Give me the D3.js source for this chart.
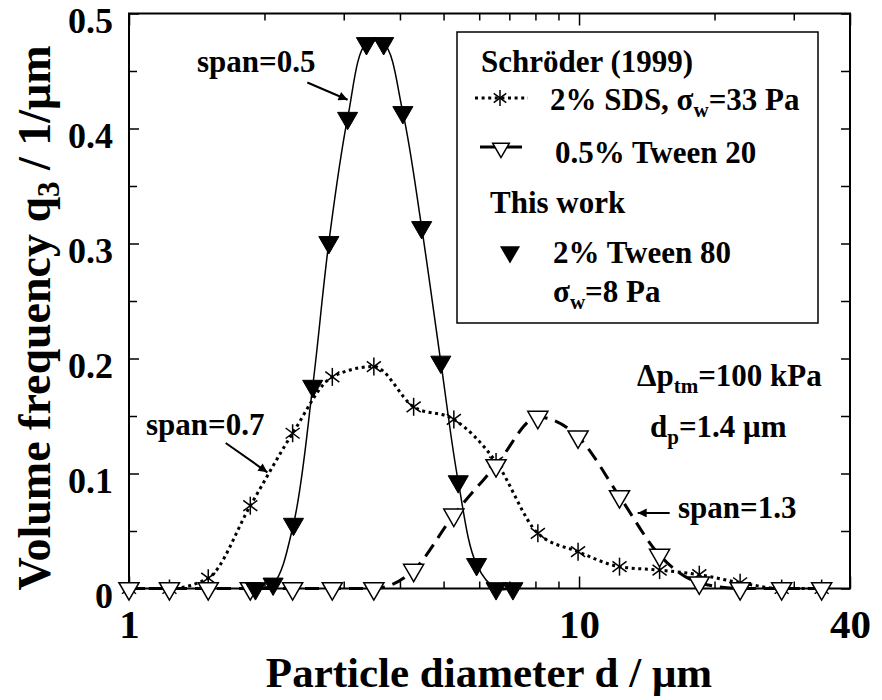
<!DOCTYPE html>
<html><head><meta charset="utf-8">
<script src="https://cdn.jsdelivr.net/npm/d3@7"></script>
<style>
body{margin:0;background:#fff}
text{font-family:"Liberation Serif","Times New Roman",serif;font-weight:bold;fill:#000}
</style>
</head><body>
<svg id="chart" width="882" height="700"></svg>
<script>
// ---------- data ----------
// Schröder (1999), 2% SDS, sigma_w = 33 Pa
const sdsD = [1.0, 1.23, 1.5, 1.86, 2.31, 2.83, 3.5, 4.29, 5.27, 6.54, 8.1, 9.95, 12.3, 15.1, 18.5, 22.8, 28.2, 34.6];
const sdsQ = [0, 0, 0.009, 0.072, 0.135, 0.184, 0.193, 0.158, 0.147, 0.11, 0.048, 0.032, 0.019, 0.016, 0.012, 0.005, 0, 0];
// Schröder (1999), 0.5% Tween 20
const tw20D = [1.0, 1.23, 1.5, 1.86, 2.31, 2.83, 3.5, 4.29, 5.27, 6.54, 8.1, 9.95, 12.3, 15.1, 18.5, 22.8, 28.2, 34.6];
const tw20Q = [0, 0, 0, 0, 0, 0, 0, 0.016, 0.064, 0.107, 0.149, 0.132, 0.080, 0.029, 0.005, 0, 0, 0];
// This work, 2% Tween 80, sigma_w = 8 Pa
const tw80D = [1.91, 2.09, 2.32, 2.56, 2.78, 3.06, 3.37, 3.68, 4.06, 4.47, 4.93, 5.39, 5.92, 6.54, 7.13];
const tw80Q = [0, 0.004, 0.056, 0.176, 0.301, 0.409, 0.474, 0.474, 0.414, 0.314, 0.197, 0.093, 0.021, 0, 0];

const xTicksMajor = [1, 10, 40];
const xTickLabels = ["1", "10", "40"];
const xTicksMinor = [2, 3, 4, 5, 6, 7, 8, 9, 20, 30];
const yTicksMajor = [0, 0.1, 0.2, 0.3, 0.4, 0.5];
const yTickLabels = ["0", "0.1", "0.2", "0.3", "0.4", "0.5"];
const yTicksMinor = [0.05, 0.15, 0.25, 0.35, 0.45];

// annotation arrows: [tail d, tail q, head d, head q]
const arrowSpan05 = [2.49, 0.440, 3.06, 0.425];
const arrowSpan07 = [1.64, 0.1265, 2.03, 0.101];
const arrowSpan13 = [15.9, 0.0657, 13.5, 0.0657];

// ---------- layout ----------
const L = 129, R = 850, T = 13.5, B = 588.5;
const svg = d3.select("#chart");
const x = d3.scaleLog().domain([1, 40]).range([L, R]);
const y = d3.scaleLinear().domain([0, 0.5]).range([B, T]);

// ---------- axes ----------
function styleAxis(g){ g.select(".domain").remove(); g.selectAll("line").attr("stroke","#000").attr("stroke-width",1.5); }
const gx = svg.append("g").attr("transform",`translate(0,${B})`)
  .call(d3.axisBottom(x).tickValues(xTicksMajor).tickSize(-12).tickFormat((d,i)=>xTickLabels[i]));
styleAxis(gx);
gx.selectAll("text").attr("y",49).attr("dy",0).style("font-size","41px");
svg.append("g").attr("transform",`translate(0,${B})`)
  .call(d3.axisBottom(x).tickValues(xTicksMinor).tickSize(-7).tickFormat("")).call(styleAxis);
svg.append("g").attr("transform",`translate(0,${T})`)
  .call(d3.axisTop(x).tickValues(xTicksMajor).tickSize(-12).tickFormat("")).call(styleAxis);
svg.append("g").attr("transform",`translate(0,${T})`)
  .call(d3.axisTop(x).tickValues(xTicksMinor).tickSize(-7).tickFormat("")).call(styleAxis);

const gy = svg.append("g").attr("transform",`translate(${L},0)`)
  .call(d3.axisLeft(y).tickValues(yTicksMajor).tickSize(-10).tickPadding(16).tickFormat((d,i)=>yTickLabels[i]));
styleAxis(gy);
gy.selectAll("text").attr("dy","0.54em").style("font-size","36px");
svg.append("g").attr("transform",`translate(${L},0)`)
  .call(d3.axisLeft(y).tickValues(yTicksMinor).tickSize(-8).tickFormat("")).call(styleAxis);
svg.append("g").attr("transform",`translate(${R},0)`)
  .call(d3.axisRight(y).tickValues(yTicksMajor.concat(yTicksMinor)).tickSize(-9).tickFormat("")).call(styleAxis);

svg.append("rect").attr("x",L).attr("y",T).attr("width",R-L).attr("height",B-T)
  .attr("fill","none").attr("stroke","#000").attr("stroke-width",2);

// ---------- axis titles ----------
svg.append("text").attr("x",489).attr("y",687).attr("text-anchor","middle").style("font-size","43px")
  .text("Particle diameter d / μm");
const yt = svg.append("text").attr("transform","translate(50,318) rotate(-90)").attr("text-anchor","middle").style("font-size","46px");
yt.append("tspan").text("Volume frequency q");
yt.append("tspan").attr("dy",9).style("font-size","31px").text("3");
yt.append("tspan").attr("dy",-9).text(" / 1/μm");

// ---------- series ----------
const line = d3.line().x(d=>x(d[0])).y(d=>y(d[1]));
const sdsPts = sdsD.map((d,i)=>[d,sdsQ[i]]);
const tw20Pts = tw20D.map((d,i)=>[d,tw20Q[i]]);
const tw80Pts = tw80D.map((d,i)=>[d,tw80Q[i]]);

svg.append("path").datum(sdsPts).attr("d",line.curve(d3.curveMonotoneX))
  .attr("fill","none").attr("stroke","#000").attr("stroke-width",3).attr("stroke-dasharray","3,3.6");
svg.append("path").datum(tw20Pts).attr("d",line.curve(d3.curveMonotoneX))
  .attr("fill","none").attr("stroke","#000").attr("stroke-width",3).attr("stroke-dasharray","14,8");
svg.append("path").datum(tw80Pts).attr("d",line.curve(d3.curveCatmullRom.alpha(0.5)))
  .attr("fill","none").attr("stroke","#000").attr("stroke-width",1.5);

function asterisk(g, r){
  g.append("line").attr("x1",0).attr("y1",-r).attr("x2",0).attr("y2",r);
  const a = r*0.78;
  g.append("line").attr("x1",-a).attr("y1",-a*0.75).attr("x2",a).attr("y2",a*0.75);
  g.append("line").attr("x1",-a).attr("y1",a*0.75).attr("x2",a).attr("y2",-a*0.75);
  g.selectAll("line").attr("stroke","#000").attr("stroke-width",1.5);
}
const tri = d3.symbol().type(d3.symbolTriangle).size(175)();
const triSmall = d3.symbol().type(d3.symbolTriangle).size(120)();

svg.append("g").selectAll("g").data(sdsPts).join("g")
  .attr("transform",d=>`translate(${x(d[0])},${y(d[1])})`).each(function(){asterisk(d3.select(this),9);});
svg.append("g").selectAll("path").data(tw20Pts).join("path")
  .attr("d",tri).attr("transform",d=>`translate(${x(d[0])},${y(d[1])}) rotate(180)`)
  .attr("fill","#fff").attr("stroke","#000").attr("stroke-width",1.5);
svg.append("g").selectAll("path").data(tw80Pts).join("path")
  .attr("d",tri).attr("transform",d=>`translate(${x(d[0])},${y(d[1])}) rotate(180)`)
  .attr("fill","#000").attr("stroke","#000").attr("stroke-width",1);

// ---------- annotations ----------
svg.append("defs").append("marker").attr("id","ah").attr("viewBox","0 0 10 10").attr("refX",10).attr("refY",5)
  .attr("markerWidth",13).attr("markerHeight",9).attr("markerUnits","userSpaceOnUse").attr("orient","auto")
  .append("path").attr("d","M0,0L10,5L0,10z").attr("fill","#000");
[arrowSpan05, arrowSpan07, arrowSpan13].forEach(a=>{
  svg.append("line").attr("x1",x(a[0])).attr("y1",y(a[1])).attr("x2",x(a[2])).attr("y2",y(a[3]))
    .attr("stroke","#000").attr("stroke-width",2).attr("marker-end","url(#ah)");
});
function txt(xp, yp, size){ return svg.append("text").attr("x",xp).attr("y",yp).style("font-size",size+"px"); }
txt(197,72,31).text("span=0.5");
txt(146,435,31).text("span=0.7");
txt(678,518,31).text("span=1.3");
const t1 = txt(637,386,31);
t1.append("tspan").text("Δp");
t1.append("tspan").attr("dy",7).style("font-size","21px").text("tm");
t1.append("tspan").attr("dy",-7).text("=100 kPa");
const t2 = txt(650,437,31);
t2.append("tspan").text("d");
t2.append("tspan").attr("dy",7).style("font-size","21px").text("p");
t2.append("tspan").attr("dy",-7).text("=1.4 μm");

// ---------- legend ----------
svg.append("rect").attr("x",457).attr("y",32).attr("width",361).attr("height",291)
  .attr("fill","#fff").attr("stroke","#000").attr("stroke-width",1.5);
txt(481,72,31).text("Schröder (1999)");
svg.append("line").attr("x1",475).attr("x2",528).attr("y1",98).attr("y2",98)
  .attr("stroke","#000").attr("stroke-width",3).attr("stroke-dasharray","3,3.6");
asterisk(svg.append("g").attr("transform","translate(500,98)"),8);
const l1 = txt(550,110,31);
l1.append("tspan").text("2% SDS, σ");
l1.append("tspan").attr("dy",7).style("font-size","21px").text("w");
l1.append("tspan").attr("dy",-7).text("=33 Pa");
svg.append("line").attr("x1",480).attr("x2",522).attr("y1",147).attr("y2",147)
  .attr("stroke","#000").attr("stroke-width",3);
svg.append("path").attr("d",triSmall).attr("transform","translate(501,148) rotate(180)")
  .attr("fill","#fff").attr("stroke","#000").attr("stroke-width",1.5);
txt(555,163,31).text("0.5% Tween 20");
txt(490,213,31).text("This work");
svg.append("path").attr("d",tri).attr("transform","translate(510,252) rotate(180)").attr("fill","#000");
txt(553,263,31).text("2% Tween 80");
const l3 = txt(553,302,31);
l3.append("tspan").text("σ");
l3.append("tspan").attr("dy",7).style("font-size","21px").text("w");
l3.append("tspan").attr("dy",-7).text("=8 Pa");
</script>
</body></html>
